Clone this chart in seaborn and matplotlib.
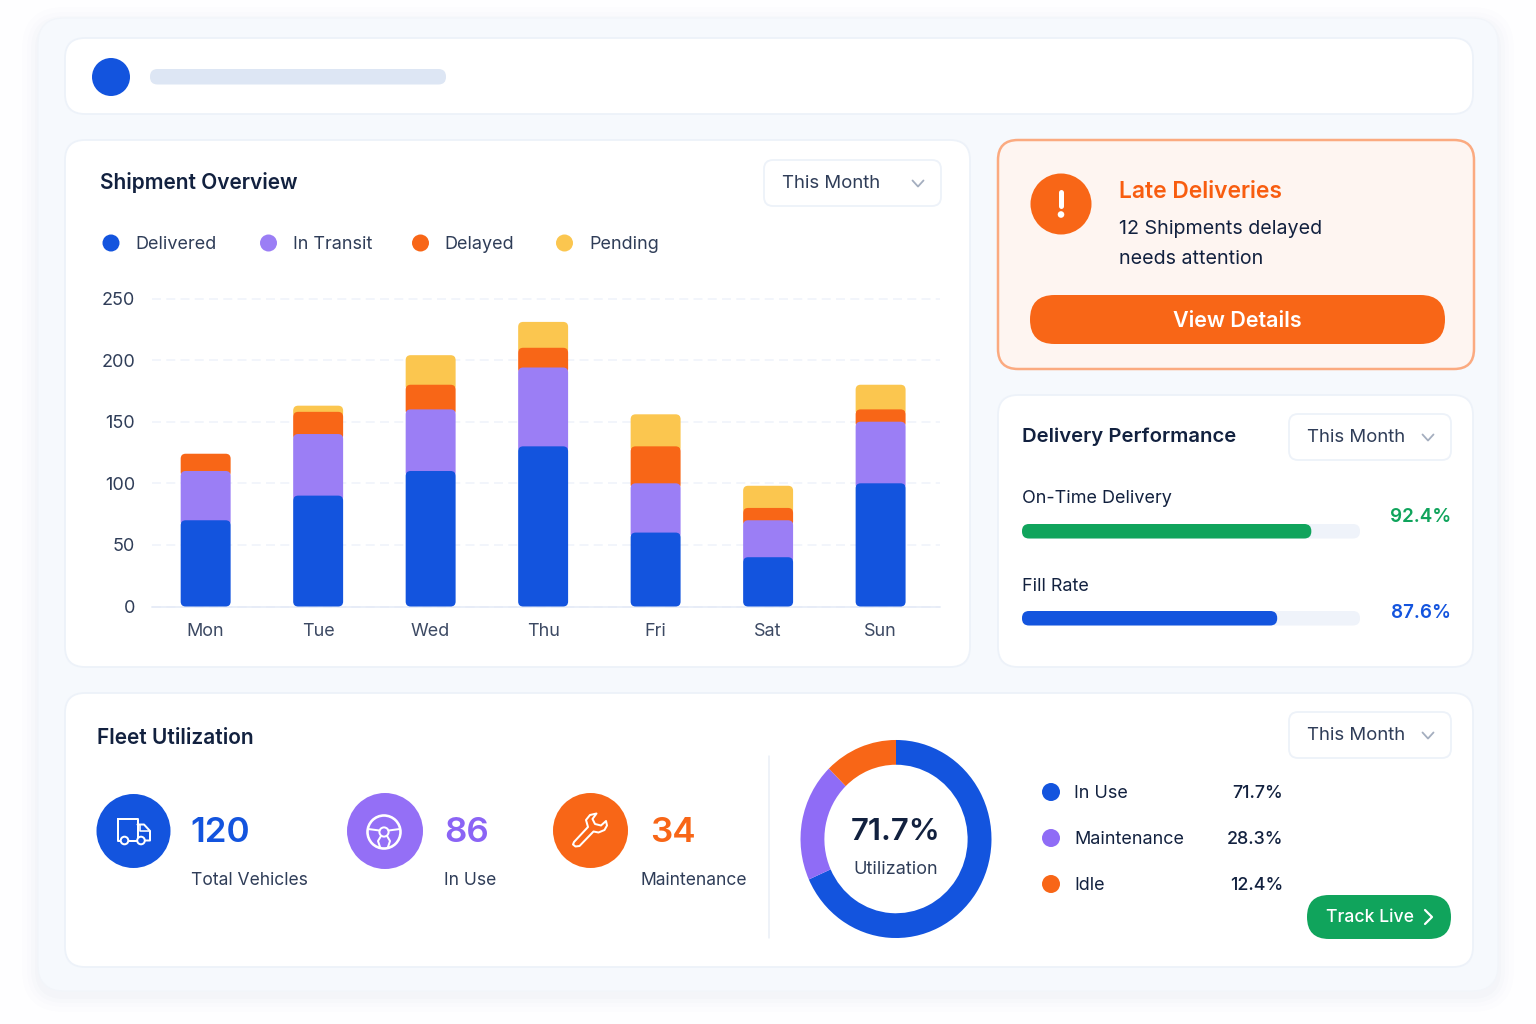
import matplotlib
matplotlib.use("Agg")
import matplotlib.pyplot as plt
import numpy as np
import seaborn as sns
from matplotlib.patches import Circle, FancyBboxPatch, Polygon

# --- chart values ---
DAYS = ["Mon", "Tue", "Wed", "Thu", "Fri", "Sat", "Sun"]
DELIVERED = [70, 90, 110, 130, 60, 40, 100]
IN_TRANSIT = [40, 50, 50, 64, 40, 30, 50]
DELAYED = [14, 18, 20, 16, 30, 10, 10]
PENDING = [0, 5, 24, 21, 26, 18, 20]
SERIES_NAMES = ["Delivered", "In Transit", "Delayed", "Pending"]
Y_TICKS = [0, 50, 100, 150, 200, 250]

PERF_NAMES = ["On-Time Delivery", "Fill Rate"]
PERF_LABELS = ["92.4%", "87.6%"]
PERF_DRAWN = [85.6, 75.5]      # bar length as drawn, not the label

FLEET_NUMBERS = ["120", "86", "34"]
FLEET_NAMES = ["Total Vehicles", "In Use", "Maintenance"]

DONUT_NAMES = ["In Use", "Maintenance", "Idle"]
DONUT_LABELS = ["71.7%", "28.3%", "12.4%"]
DONUT_ARCS = [68.3, 19.3, 12.4]  # arc shares as drawn

# --- palette ---
BLUE, PURPLE, ORANGE, YELLOW, GREEN = "#1354DE", "#9B7EF5", "#F86617", "#FBC64F", "#10A45C"
INK, SOFT_INK = "#12213F", "#2F3D58"
BORDER = "#EDF2F9"
W, H = 1536, 1024

sns.set_theme(style="white")
plt.rcParams["font.family"] = ["Inter", "DejaVu Sans"]

fig = plt.figure(figsize=(W / 100, H / 100), dpi=100, facecolor="#FEFEFF")
page = fig.add_axes([0, 0, 1, 1], zorder=0)
page.set_xlim(0, W)
page.set_ylim(H, 0)
page.axis("off")


def px(size):
    return size * 0.72


def card(x0, y0, x1, y1, r=20, fc="#FFFFFF", ec=BORDER, lw=1.8, z=2, ax=page):
    p = FancyBboxPatch((x0, y0), x1 - x0, y1 - y0, boxstyle=f"round,pad=0,rounding_size={r}",
                       fc=fc, ec=ec, lw=px(lw), zorder=z)
    ax.add_patch(p)
    return p


def dot(x, y, r, color, z=3):
    page.add_patch(Circle((x, y), r, fc=color, ec="none", zorder=z))


def txt(x, y, s, size, color=INK, weight="normal", ha="left"):
    page.text(x, y + 1.5, s, fontsize=px(size), color=color, fontweight=weight, ha=ha,
              va="center", zorder=6)


def stroke(xs, ys, color="white", lw=2.0, z=5):
    page.plot(xs, ys, color=color, lw=px(lw), solid_capstyle="round",
              solid_joinstyle="round", zorder=z)


def chevron(x, y, color="#A4AEBF", size=5.5, lw=1.8):
    stroke([x - size, x, x + size], [y - size * 0.55, y + size * 0.55, y - size * 0.55], color, lw)


def dropdown(x0, y0, x1, y1, text_x, chev_x):
    card(x0, y0, x1, y1, r=9, z=3)
    txt(text_x, (y0 + y1) / 2 - 0.5, "This Month", 18.6, SOFT_INK)
    chevron(chev_x, (y0 + y1) / 2 + 0.5)


def round_bars(ax, bars, radius, z, extend=0.0):
    """Swap seaborn's square bars for rounded ones with the same extent."""
    to_page = ax.transData + page.transData.inverted()
    for bar in bars:
        (x0, y0), (x1, y1) = to_page.transform([(bar.get_x(), bar.get_y()),
                                                (bar.get_x() + bar.get_width(),
                                                 bar.get_y() + bar.get_height())])
        color = bar.get_facecolor()
        bar.remove()
        if abs(y1 - y0) < 0.5:
            continue
        top, bottom = min(y0, y1), max(y0, y1) + extend
        ax.add_patch(FancyBboxPatch((min(x0, x1), top), abs(x1 - x0), bottom - top,
                                    boxstyle=f"round,pad=0,rounding_size={radius}",
                                    fc=color, ec="none", zorder=z, clip_on=False,
                                    transform=page.transData))


def sub_axes(x0, y0, x1, y1, zorder=4):
    ax = fig.add_axes([x0 / W, 1 - y1 / H, (x1 - x0) / W, (y1 - y0) / H], zorder=zorder)
    ax.patch.set_alpha(0)
    return ax


# --- page frame: soft shadow, panel, cards ---
for grow, alpha in [(16, 0.007), (11, 0.009), (7, 0.011), (3, 0.014)]:
    page.add_patch(FancyBboxPatch((38 - grow, 18 - grow + 5), 1460 + 2 * grow, 973 + 2 * grow,
                                  boxstyle=f"round,pad=0,rounding_size={26 + grow}",
                                  fc="#3A5A9A", ec="none", alpha=alpha, zorder=1))
card(38, 18, 1498, 991, r=26, fc="#F6F9FD", ec="#F2F5FA", lw=1.2, z=1)
card(65, 38, 1473, 114)
card(65, 140, 970, 667)
card(998, 395, 1473, 667)
card(65, 693, 1473, 967)

# header strip
dot(111, 77, 19, BLUE)
card(150, 69, 446, 84.5, r=7.5, fc="#DDE6F4", ec="none", lw=0, z=3)

# --- shipment overview ---
txt(100, 181, "Shipment Overview", 20.9, INK, "semibold")
dropdown(764, 160, 941, 206, 782, 918)
for x, label_x, name, color in zip([111, 268.5, 420.5, 564.5], [135, 293, 444, 589],
                                   SERIES_NAMES, [BLUE, PURPLE, ORANGE, YELLOW]):
    dot(x, 243, 8.5, color)
    txt(label_x, 243, name, 18, SOFT_INK)

ax = sub_axes(152, 298.5, 940, 606.5)
bottoms = np.zeros(len(DAYS))
stacks = []
for values, color in zip([DELIVERED, IN_TRANSIT, DELAYED, PENDING], [BLUE, PURPLE, ORANGE, YELLOW]):
    before = len(ax.patches)
    sns.barplot(x=DAYS, y=values, bottom=bottoms, color=color, saturation=1, width=0.444, ax=ax)
    stacks.append(list(ax.patches)[before:])
    bottoms = bottoms + np.array(values)
ax.set_xlim(-0.477, 6.528)
ax.set_ylim(0, 250)
ax.set_yticks(Y_TICKS)
ax.set_xlabel("")
ax.set_ylabel("")
ax.tick_params(axis="y", length=0, pad=px(17), labelsize=px(18), labelcolor=SOFT_INK)
ax.tick_params(axis="x", length=0, pad=px(16), labelsize=px(18), labelcolor="#3C4963")
ax.yaxis.grid(True, color="#EFF3FA", lw=px(1.5), ls=(0, (6, 3.5)), clip_on=False)
ax.set_axisbelow(True)
sns.despine(ax=ax, left=True, top=True, right=True)
ax.spines["bottom"].set_color("#E4EAF6")
ax.spines["bottom"].set_linewidth(px(1.5))
for level, bars in enumerate(stacks):
    # lower segments sit on top, their round shoulders over the segment above
    round_bars(ax, bars, 5, z=6 - level, extend=0 if level == 0 else 6)

# --- late deliveries alert ---
card(998, 140, 1474, 369, r=20, fc="#FEF5F1", ec="#FBAA80", lw=2.5)
dot(1061, 204, 30.5, ORANGE)
stroke([1061, 1061], [192, 206], lw=5)
dot(1061, 214.5, 3.3, "white", z=5)
txt(1119, 190, "Late Deliveries", 22.8, "#F85D10", "semibold")
txt(1119, 227, "12 Shipments delayed", 19.7, INK)
txt(1119, 257, "needs attention", 19.7, INK)
card(1030, 295, 1445, 344, r=24.5, fc=ORANGE, ec="none", lw=0, z=3)
txt(1237.5, 319.5, "View Details", 21.5, "white", "semibold", "center")

# --- delivery performance ---
txt(1022, 435, "Delivery Performance", 20.3, INK, "semibold")
dropdown(1289, 414, 1451, 460, 1307, 1428)
for name, label, drawn, color, top, label_y in zip(PERF_NAMES, PERF_LABELS, PERF_DRAWN,
                                                   [GREEN, BLUE], [524, 611], [515, 611]):
    txt(1022, top - 27 if color == GREEN else top - 26, name, 18, INK)
    txt(1451, label_y, label, 18.8, color, "semibold", "right")
    card(1022, top, 1360, top + 14.5, r=7, fc="#EFF3FA", ec="none", lw=0, z=3)
    bar_ax = sub_axes(1022, top, 1360, top + 14.5)
    sns.barplot(x=[drawn], y=[name], orient="h", color=color, saturation=1, width=1, ax=bar_ax)
    bar_ax.set_xlim(0, 100)
    bar_ax.set_ylim(0.5, -0.5)
    bar_ax.axis("off")
    round_bars(bar_ax, list(bar_ax.patches), 7, z=3)

# --- fleet utilization ---
txt(97, 736, "Fleet Utilization", 20.9, INK, "semibold")
dropdown(1289, 712, 1451, 758, 1307, 1428)
page.plot([768.5, 768.5], [756, 938], color="#E9EFF7", lw=px(1.5), zorder=3)

dot(133.5, 831, 37, BLUE)
dot(385, 831, 38, "#946FF6")
dot(590.5, 830.5, 37.5, ORANGE)
for x, name_x, number, name, color in zip([190, 444, 650], [191, 444, 640], FLEET_NUMBERS,
                                          FLEET_NAMES, [BLUE, "#8B64F5", ORANGE]):
    txt(x, 831, number, 35, color, "semibold")
    txt(name_x, 879, name, 17.5, SOFT_INK)

# truck icon
stroke([118, 118, 137.5, 137.5, 118], [819, 840.5, 840.5, 819, 819], lw=2)
stroke([137.5, 144, 150, 150, 137.5], [824.5, 824.5, 831, 840.5, 840.5], lw=2)
stroke([139.5, 139.5, 150], [825, 831, 831], lw=1.6)
for cx in [124.5, 141]:
    page.add_patch(Circle((cx, 840.5), 3.8, fc=BLUE, ec="white", lw=px(2), zorder=6))

# steering wheel icon
page.add_patch(Circle((384, 832), 16.5, fc="none", ec="white", lw=px(2.6), zorder=5))
page.add_patch(Circle((384, 832), 4.6, fc="none", ec="white", lw=px(2), zorder=5))
stroke([368, 379.5], [829, 830.5], lw=2)
stroke([388.5, 400], [830.5, 829], lw=2)
stroke([381, 378, 380], [836, 841, 847], lw=2)
stroke([387, 390, 388], [836, 841, 847], lw=2)

# wrench icon
page.add_patch(Polygon([(574, 842), (588, 827), (586, 820), (590, 815), (596.5, 813.5),
                        (592.5, 819), (595, 824), (601, 825.5), (606, 821), (607, 825.5),
                        (604.5, 830), (598.5, 832.5), (593.5, 831.5), (579.5, 846),
                        (575.5, 846.5), (573, 844.5)],
                       closed=True, fc="none", ec="white", lw=px(2), joinstyle="round", zorder=5))

# donut
donut_ax = sub_axes(896 - 97.4, 839 - 101, 896 + 97.4, 839 + 101)
donut_ax.pie(DONUT_ARCS, colors=[BLUE, "#8F6CF6", ORANGE], startangle=90, counterclock=False,
             radius=1, wedgeprops={"width": 0.25, "linewidth": 0})
donut_ax.set_aspect("auto")
donut_ax.set_xlim(-1.02, 1.02)
donut_ax.set_ylim(-1.02, 1.02)
txt(896, 831, "71.7%", 31, INK, "semibold", "center")
txt(896, 867.5, "Utilization", 18, SOFT_INK, "normal", "center")
for y, name, label, color in zip([792, 838, 884], DONUT_NAMES, DONUT_LABELS,
                                 [BLUE, "#8F6CF6", ORANGE]):
    dot(1051, y, 9, color)
    txt(1074, y - 0.5, name, 18, INK)
    txt(1283, y - 0.5, label, 17.8, INK, "medium", "right")

card(1307, 895, 1451, 939, r=22, fc=GREEN, ec="none", lw=0, z=3)
txt(1326, 916.5, "Track Live", 17.6, "white", "medium")
stroke([1425, 1432, 1425], [910, 917, 924], lw=2.2)

fig.savefig("out.png", dpi=100, facecolor=fig.get_facecolor())
